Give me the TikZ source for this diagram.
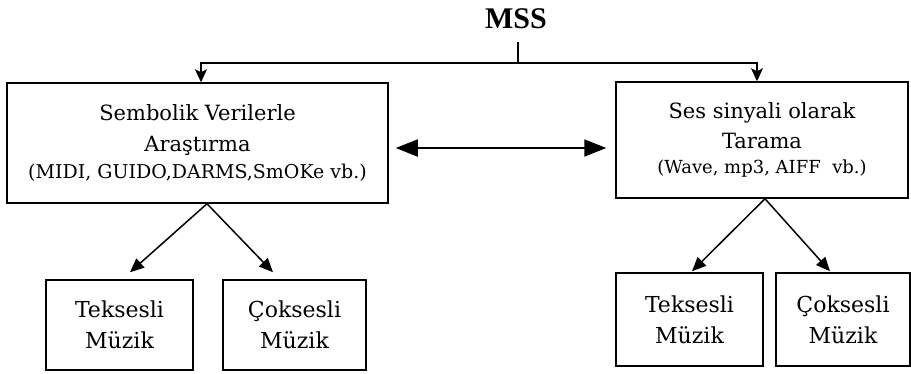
\documentclass[tikz,border=0pt]{standalone}
\usepackage{fontspec}
\setmainfont{DejaVu Serif}
\newfontfamily\titlefont{Liberation Serif}
\usetikzlibrary{arrows.meta}
\begin{document}
\begin{tikzpicture}[x=1pt,y=-1pt,
  every node/.style={inner sep=0pt},
  line/.style={line width=1.5pt},
  boxed/.style={draw, line width=1.5pt, align=center},
  bigtext/.style={font=\fontsize{21}{31}\selectfont},
  smalltext/.style={font=\fontsize{22}{31}\selectfont},
  toparrow/.style={line, -{Stealth[length=13pt,width=12pt,inset=3pt]}},
  downarrow/.style={line, -{Triangle[length=14pt,width=12pt]}},
  bigarrow/.style={line width=1.8pt, {Triangle[length=22pt,width=17pt]}-{Triangle[length=22pt,width=17pt]}}
]
\useasboundingbox (0,0) rectangle (911,373);
\fill[white] (0,0) rectangle (911,373);

% title
\node[font=\titlefont\bfseries\fontsize{30}{32}\selectfont] (mss) at (516,19) {MSS};
\coordinate (j) at (518,63);

% main boxes
\node[boxed, bigtext, minimum width=381pt, minimum height=120pt] (sym) at (197.5,143)
  {Sembolik Verilerle\\Araştırma\\[-4pt]{\fontsize{19}{19}\selectfont(MIDI, GUIDO,DARMS,SmOKe vb.)}};
\node[boxed, bigtext, minimum width=292pt, minimum height=116pt] (sig) at (762,140)
  {Ses sinyali olarak\\[-1pt]Tarama\\[-6pt]{\fontsize{18}{18}\selectfont(Wave, mp3, AIFF~ vb.)}};

% lower boxes
\node[boxed, smalltext, minimum width=147pt, minimum height=90pt] (t1) at (119.5,325) {Teksesli\\Müzik};
\node[boxed, smalltext, minimum width=143pt, minimum height=90pt] (c1) at (294.5,325) {Çoksesli\\Müzik};
\node[boxed, smalltext, minimum width=147pt, minimum height=93pt] (t2) at (689.5,319.5) {Teksesli\\Müzik};
\node[boxed, smalltext, minimum width=134pt, minimum height=93pt] (c2) at (843,319.5) {Çoksesli\\Müzik};

% connectors from MSS
\draw[line] (mss.south -| j) ++(0,13) -- (j);
\draw[toparrow] (j) -| ([xshift=3.5pt]sym.north);
\draw[toparrow] (j) -| ([xshift=-5pt]sig.north);

% double arrow
\draw[bigarrow, shorten <=7pt, shorten >=9pt] ([yshift=-5pt]sym.east) -- ([yshift=-8pt]sig.west);

% branches
\draw[downarrow] ([xshift=9.5pt]sym.south) -- ([xshift=10.5pt,yshift=7pt]t1.north);
\draw[downarrow] ([xshift=9.5pt]sym.south) -- ([xshift=-21.5pt,yshift=7pt]c1.north);
\draw[downarrow] ([xshift=3pt]sig.south) -- ([xshift=2.5pt,yshift=1pt]t2.north);
\draw[downarrow] ([xshift=3pt]sig.south) -- ([xshift=-13pt,yshift=1pt]c2.north);
\end{tikzpicture}
\end{document}
